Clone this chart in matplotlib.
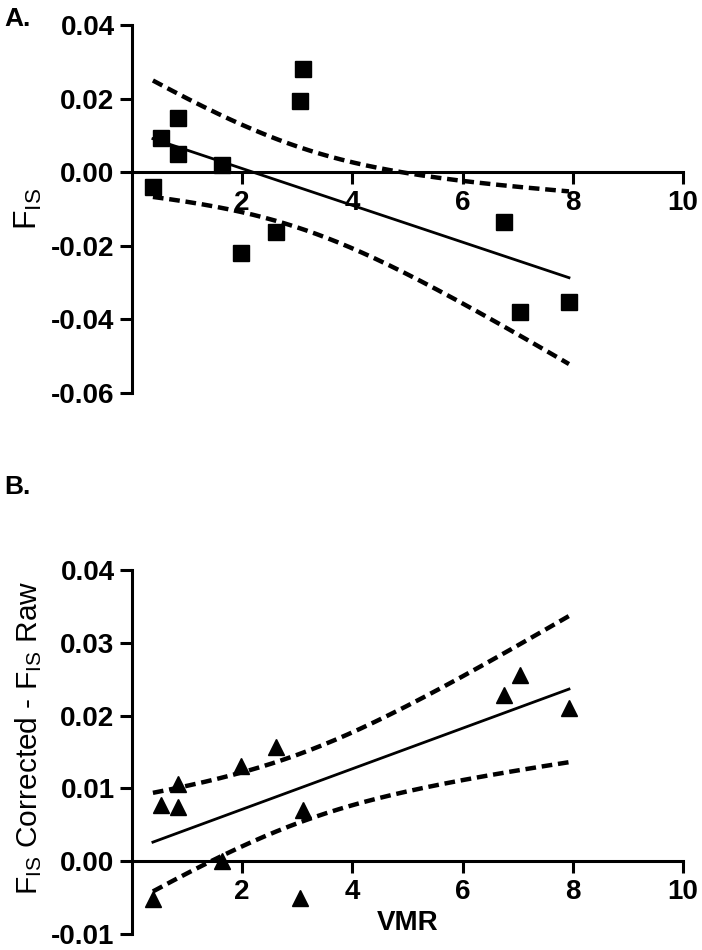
import numpy as np
import matplotlib
matplotlib.use("Agg")
import matplotlib.pyplot as plt

plt.rcParams["font.family"] = ["Liberation Sans", "DejaVu Sans"]
plt.rcParams["mathtext.default"] = "regular"
plt.rcParams["axes.unicode_minus"] = False

# ----------------------------- data -----------------------------
vmr = [0.38, 0.53, 0.84, 0.84, 1.63, 1.97, 2.61, 3.05, 3.11, 6.75, 7.04, 7.93]
fis_raw = [-0.0041, 0.0092, 0.0147, 0.0049, 0.0019, -0.0220, -0.0163,
           0.0193, 0.0280, -0.0136, -0.0381, -0.0354]
fis_diff = [-0.0052, 0.0077, 0.0075, 0.0106, 0.0000, 0.0131, 0.0157,
            -0.0051, 0.0070, 0.0229, 0.0256, 0.0211]

x_ticks = [2, 4, 6, 8, 10]
a_yticks = [0.04, 0.02, 0.00, -0.02, -0.04, -0.06]
b_yticks = [0.04, 0.03, 0.02, 0.01, 0.00, -0.01]

T_95 = 2.228  # t(0.975, df=10)


def fit_band(x, y):
    # linear fit + 95% confidence band of the regression line
    x = np.asarray(x, float)
    y = np.asarray(y, float)
    n = len(x)
    b1, b0 = np.polyfit(x, y, 1)
    s = np.sqrt(np.sum((y - (b0 + b1 * x)) ** 2) / (n - 2))
    sxx = np.sum((x - x.mean()) ** 2)
    xs = np.linspace(x.min(), x.max(), 200)
    yh = b0 + b1 * xs
    se = s * np.sqrt(1.0 / n + (xs - x.mean()) ** 2 / sxx)
    return xs, yh, yh - T_95 * se, yh + T_95 * se


def panel(ax, x, y, marker, yticks):
    xs, yh, lo, hi = fit_band(x, y)
    ax.plot(xs, yh, color="black", lw=2.0, zorder=2)
    for band in (lo, hi):
        ax.plot(xs, band, color="black", lw=3.2, linestyle=(0, (2.4, 1.3)), zorder=2)
    ax.plot(x, y, linestyle="none", marker=marker, color="black", ms=11, zorder=3)

    ax.set_xlim(0, 10)
    ax.set_ylim(min(yticks), max(yticks))
    ax.spines["top"].set_visible(False)
    ax.spines["right"].set_visible(False)
    ax.spines["bottom"].set_position(("data", 0))
    for sp in ("left", "bottom"):
        ax.spines[sp].set_linewidth(2.2)
    ax.set_xticks(x_ticks)
    ax.set_xticklabels([str(t) for t in x_ticks])
    ax.set_yticks(yticks)
    ax.set_yticklabels([f"{t:.2f}" for t in yticks])
    ax.tick_params(length=8.5, width=2.2, labelsize=20, pad=4)
    for lab in ax.get_xticklabels() + ax.get_yticklabels():
        lab.set_fontweight("bold")
    ax.patch.set_visible(False)


fig = plt.figure(figsize=(7.02, 9.5), dpi=100)
ax_a = fig.add_axes([0.188, 0.5863, 0.785, 0.3874])
ax_b = fig.add_axes([0.188, 0.0168, 0.785, 0.3832])

panel(ax_a, vmr, fis_raw, "s", a_yticks)
panel(ax_b, vmr, fis_diff, "^", b_yticks)

ax_a.set_ylabel("$F_{IS}$", fontsize=23)
ax_a.yaxis.set_label_coords(-0.16, 0.5)
ax_b.set_ylabel("$F_{IS}$ Corrected - $F_{IS}$ Raw", fontsize=21.5)
ax_b.yaxis.set_label_coords(-0.16, 0.54)
ax_b.set_xlabel("VMR", fontsize=20, fontweight="bold", labelpad=4)

fig.text(0.006, 0.993, "A.", fontsize=19, fontweight="bold", va="top")
fig.text(0.006, 0.500, "B.", fontsize=19, fontweight="bold", va="top")

fig.savefig("out.png", dpi=100)
